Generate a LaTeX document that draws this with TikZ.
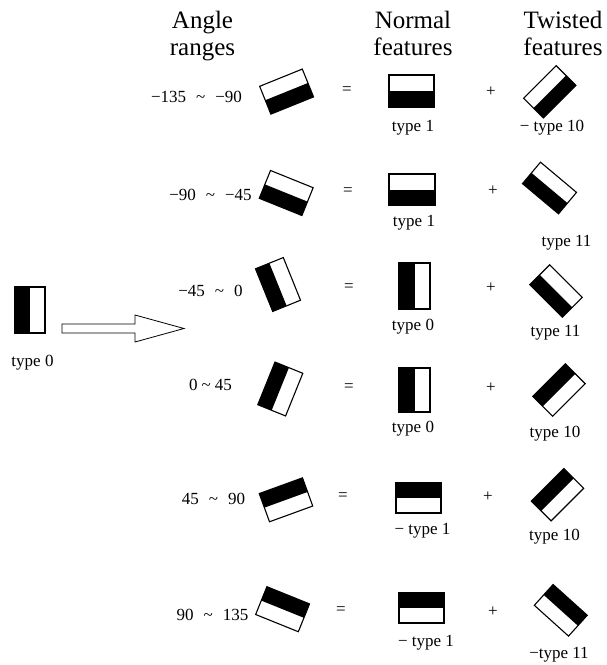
\documentclass[tikz,border=0pt]{standalone}
\usepackage{fontspec}
\setmainfont{Liberation Serif}
\usepackage{graphicx}
\tikzset{
  hdr/.style={font=\fontsize{25}{26.5}\selectfont, align=center, inner sep=0pt, anchor=north},
  lbl/.style={font=\fontsize{17}{20}\selectfont, inner sep=0pt},
  border/.style={draw=black, line width=1.1pt},
  arrowbody/.style={draw=black, line width=0.8pt, fill=white}
}
% name, x, y, angle, width, height, black half (unit coords)
\newcommand\featbox[7]{%
  \begin{scope}[shift={(#2,#3)}, rotate=#4, xscale=#5, yscale=#6]
    \coordinate (#1) at (0,0);
    \fill[white] (-.5,-.5) rectangle (.5,.5);
    \fill[black] #7;
    \draw[border] (-.5,-.5) rectangle (.5,.5);
  \end{scope}}
\newcommand\blacktop{(-.5,-.5) rectangle (.5,0)}
\newcommand\blackbot{(-.5,0) rectangle (.5,.5)}
\newcommand\blackleft{(-.5,-.5) rectangle (0,.5)}
\newcommand\rg[3][10pt]{#2\hspace{#1}\textasciitilde\hspace{#1}#3}
\begin{document}
\begin{tikzpicture}[x=1pt, y=-1pt]
\fill[white] (0,0) rectangle (607,665);
\useasboundingbox (0,0) rectangle (607,665);

% headers
\node[hdr] (h1) at (202.5,11) {Angle\\ranges};
\node[hdr] (h2) at (413,11) {Normal\\features};
\node[hdr] (h3) at (563,11) {Twisted\\features};

% left source feature and arrow
\featbox{src}{30}{310}{0}{30}{46}{\blackleft}
\node[lbl] (srcl) at (32.5,363) {type 0};
\coordinate (ast) at (62,328.5);
\coordinate (atip) at (184,328.5);
\draw[arrowbody] (ast) ++(0,-4.5) -- ++(73,0) -- ++(0,-9) -- (atip)
  -- ++(-49,13.5) -- ++(0,-9) -- ++(-73,0) -- cycle;

% row 1
\node[lbl] (r1) at (196.5,97) {\rg{−135}{−90}};
\featbox{a1}{286.6}{91.6}{22}{46}{30}{\blackbot}
\node[lbl] (e1) at (347,91) {=};
\featbox{n1}{411.5}{91}{0}{45}{32}{\blackbot}
\node[lbl] (n1l) at (413,128) {type 1};
\node[lbl] (p1) at (491,92) {+};
\featbox{t1}{549.8}{91.8}{45}{46}{28}{\blackbot}
\node[lbl] (t1l) at (552,128) {− type 10};

% row 2
\node[lbl] (r2) at (210.5,195) {\rg{−90}{−45}};
\featbox{a2}{286.2}{193}{-22}{46}{30}{\blackbot}
\node[lbl] (e2) at (348,192) {=};
\featbox{n2}{412}{189.5}{0}{46}{31}{\blackbot}
\node[lbl] (n2l) at (414,223) {type 1};
\node[lbl] (p2) at (493,191) {+};
\featbox{t2}{549.5}{188}{-40}{47}{28}{\blackbot}
\node[lbl] (t2l) at (566.5,243) {type 11};

% row 3
\node[lbl] (r3) at (210.5,291) {\rg{−45}{0}};
\featbox{a3}{278}{284.5}{22}{30}{46}{\blackleft}
\node[lbl] (e3) at (349,288) {=};
\featbox{n3}{414.5}{286}{0}{31}{46}{\blackleft}
\node[lbl] (n3l) at (413,327) {type 0};
\node[lbl] (p3) at (491,288) {+};
\featbox{t3}{556}{291}{-45}{46}{28}{\blackbot}
\node[lbl] (t3l) at (555.5,333) {type 11};

% row 4
\node[lbl] (r4) at (210.5,385) {\rg[4pt]{0}{45}};
\featbox{a4}{280.3}{389}{-22}{30}{46}{\blackleft}
\node[lbl] (e4) at (349,388) {=};
\featbox{n4}{414.5}{390}{0}{31}{44}{\blackleft}
\node[lbl] (n4l) at (413,429) {type 0};
\node[lbl] (p4) at (491,388) {+};
\featbox{t4}{559}{390}{45}{46}{28}{\blacktop}
\node[lbl] (t4l) at (555,434) {type 10};

% row 5
\node[lbl] (r5) at (213.5,499) {\rg{45}{90}};
\featbox{a5}{286}{499.8}{20}{46}{30}{\blacktop}
\node[lbl] (e5) at (343,497) {=};
\featbox{n5}{418.5}{498}{0}{45}{30}{\blacktop}
\node[lbl] (n5l) at (422.5,531) {− type 1};
\node[lbl] (p5) at (488,497) {+};
\featbox{t5}{557.5}{494.7}{45}{46}{28}{\blacktop}
\node[lbl] (t5l) at (554.5,537) {type 10};

% row 6
\node[lbl] (r6) at (212.5,615) {\rg{90}{135}};
\featbox{a6}{282.6}{609.2}{-22}{46}{30}{\blacktop}
\node[lbl] (e6) at (341,611) {=};
\featbox{n6}{421.5}{608}{0}{45}{30}{\blacktop}
\node[lbl] (n6l) at (426,643) {− type 1};
\node[lbl] (p6) at (493,612) {+};
\featbox{t6}{560.8}{610.3}{-42}{46}{28}{\blacktop}
\node[lbl] (t6l) at (559,655) {−type 11};
\end{tikzpicture}
\end{document}
